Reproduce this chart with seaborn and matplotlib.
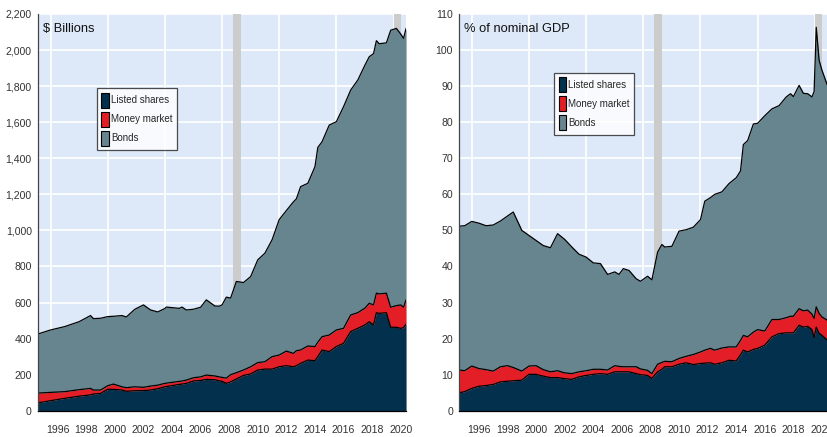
import numpy as np
import pandas as pd
import matplotlib
matplotlib.use("Agg")
import matplotlib.pyplot as plt
from matplotlib.ticker import FuncFormatter, FixedLocator
from matplotlib import font_manager
import seaborn as sns

# ---- data (decimal years) ----
usd_t = [1995.125, 1996, 1997, 1998, 1998.8, 1999, 1999.5, 2000, 2000.4, 2001, 2001.3,
         2001.9, 2002.5, 2003, 2003.5, 2004, 2004.1, 2005, 2005.2, 2005.5, 2006, 2006.5,
         2006.9, 2007.5, 2007.8, 2008, 2008.3, 2008.6, 2009, 2009.5, 2010, 2010.5, 2011,
         2011.5, 2012, 2012.5, 2013, 2013.2, 2013.5, 2014, 2014.5, 2014.7, 2015, 2015.5,
         2016, 2016.5, 2017, 2017.5, 2018, 2018.3, 2018.6, 2018.8, 2019, 2019.5, 2019.8,
         2020.2, 2020.5, 2020.7, 2020.875]
# cumulative tops of each band, $ billions
usd_total = [426, 448, 467, 494, 528, 511, 513, 522, 524, 528, 520,
             563, 587, 559, 548, 567, 575, 568, 575, 559, 563, 574,
             615, 581, 580, 587, 630, 625, 717, 711, 744, 837, 874,
             948, 1060, 1110, 1159, 1175, 1243, 1261, 1353, 1460, 1492, 1584,
             1603, 1686, 1778, 1834, 1917, 1963, 1980, 2052, 2035, 2040, 2110,
             2120, 2089, 2065, 2120]
usd_shares_mm = [98, 102, 106, 117, 124, 115, 115, 139, 148, 133, 128,
                 133, 130, 137, 142, 152, 153, 163, 165, 170, 183, 188,
                 198, 193, 188, 185, 181, 200, 211, 226, 244, 267, 272,
                 300, 309, 331, 318, 333, 337, 359, 356, 380, 411, 420,
                 448, 457, 531, 544, 569, 596, 587, 652, 648, 652, 574,
                 583, 587, 574, 615]
usd_shares = [44, 56, 69, 81, 88, 93, 96, 119, 119, 115, 108,
              111, 112, 115, 122, 133, 134, 146, 148, 152, 165, 168,
              174, 172, 166, 163, 152, 160, 176, 196, 204, 226, 231,
              231, 244, 250, 244, 250, 263, 281, 278, 300, 337, 328,
              356, 374, 439, 457, 476, 494, 476, 544, 540, 544, 463,
              463, 457, 461, 481]

gdp_t = [1995.125, 1995.5, 1996, 1996.5, 1997, 1997.5, 1998, 1998.5, 1998.9, 1999.5,
         2000, 2000.5, 2001, 2001.5, 2002, 2002.5, 2003, 2003.5, 2004, 2004.5, 2005,
         2005.5, 2006, 2006.3, 2006.6, 2007, 2007.5, 2007.8, 2008.3, 2008.6, 2009,
         2009.3, 2009.5, 2010, 2010.5, 2011, 2011.5, 2012, 2012.3, 2012.7, 2013, 2013.5,
         2014, 2014.5, 2014.8, 2015, 2015.3, 2015.7, 2016, 2016.5, 2017, 2017.5, 2018,
         2018.3, 2018.5, 2018.9, 2019.2, 2019.5, 2019.8, 2019.95, 2020.1, 2020.3,
         2020.5, 2020.875]
# cumulative tops of each band, % of nominal GDP
gdp_total = [51.2, 51.3, 52.5, 52.0, 51.3, 51.5, 52.6, 54.0, 55.1, 50.0,
             48.6, 47.2, 45.8, 45.2, 49.1, 47.5, 45.4, 43.4, 42.6, 41.0, 40.8,
             37.8, 38.5, 37.8, 39.4, 38.9, 36.6, 35.9, 37.3, 36.3, 44.0,
             46.1, 45.4, 45.6, 49.8, 50.2, 50.9, 53.0, 58.1, 59.1, 60.0, 60.7,
             63.0, 64.6, 66.5, 73.8, 74.9, 79.5, 79.7, 81.8, 83.7, 84.6, 87.0,
             87.9, 87.1, 90.2, 88.0, 87.9, 87.0, 88.5, 106.3, 97.2,
             94.4, 90.3]
gdp_shares_mm = [11.3, 11.1, 12.4, 11.7, 11.4, 11.0, 12.2, 12.5, 12.0, 11.0,
                 12.4, 12.5, 11.4, 10.8, 11.1, 10.5, 10.3, 10.8, 11.1, 11.5, 11.5,
                 11.3, 12.5, 12.3, 12.2, 12.2, 12.2, 11.6, 11.2, 10.3, 12.9,
                 13.4, 13.7, 13.6, 14.5, 15.1, 15.6, 16.3, 16.8, 17.3, 16.8, 17.4,
                 17.7, 17.7, 19.5, 20.9, 20.5, 21.8, 22.5, 22.1, 25.3, 25.3, 25.8,
                 26.2, 26.2, 28.3, 27.7, 27.9, 26.8, 25.6, 28.8, 27.0,
                 26.0, 25.1]
gdp_shares = [5.0, 5.3, 6.2, 6.8, 7.0, 7.3, 8.0, 8.2, 8.3, 8.5,
              10.1, 10.1, 9.6, 9.2, 9.2, 8.9, 8.7, 9.4, 9.8, 10.1, 10.3,
              10.1, 10.8, 10.8, 10.8, 10.8, 10.3, 10.0, 9.8, 9.0, 10.8,
              11.5, 12.2, 12.2, 12.9, 13.3, 12.8, 13.1, 13.2, 13.3, 12.9, 13.3,
              14.0, 13.8, 15.5, 16.8, 16.3, 17.0, 17.3, 18.2, 20.5, 21.4, 21.6,
              21.6, 21.6, 23.7, 23.2, 23.4, 22.5, 20.3, 23.2, 21.5,
              20.9, 19.6]

recessions = [(2008.75, 2009.3), (2020.0, 2020.5)]
series_names = ["Listed shares", "Money market", "Bonds"]
colors = ["#03304c", "#e41e26", "#67858f"]

sns.set_style("white")
plt.rcParams["font.family"] = ["Liberation Sans", "DejaVu Sans"]
installed = {f.name for f in font_manager.fontManager.ttflist}
narrow = "Liberation Sans Narrow" if "Liberation Sans Narrow" in installed else "Liberation Sans"
tick_size = 7.6
leg_size = 7.0

fig = plt.figure(figsize=(8.27, 4.37), dpi=100)
ax1 = fig.add_axes([0.046, 0.060, 0.445, 0.908])
ax2 = fig.add_axes([0.5554, 0.060, 0.445, 0.908])


def draw(ax, t, shares, smm, total, ymax, ystep, title, leg_xy):
    ax.set_facecolor("#dde9f9")
    t = np.array(t)
    df = pd.DataFrame({"t": t, "shares": shares, "smm": smm, "total": total})
    ax.set_xlim(t[0], t[-1])
    ax.set_ylim(0, ymax)

    # grid
    for g in range(1996, 2021, 4):
        ax.axvline(g, color="white", lw=1.2, zorder=0.5)
    for v in np.arange(ystep, ymax + 1, ystep):
        ax.axhline(v, color="white", lw=1.2, zorder=0.5)
    for a, b in recessions:
        ax.axvspan(a, b, color="#cccccc", lw=0, zorder=0.8)

    ax.fill_between(df.t, 0, df.shares, color=colors[0], lw=0, zorder=1)
    ax.fill_between(df.t, df.shares, df.smm, color=colors[1], lw=0, zorder=1)
    ax.fill_between(df.t, df.smm, df.total, color=colors[2], lw=0, zorder=1)
    for col in ["shares", "smm", "total"]:
        sns.lineplot(data=df, x="t", y=col, ax=ax, color="black", lw=0.9,
                     zorder=2, estimator=None, sort=False)
    ax.set_xlabel("")
    ax.set_ylabel("")

    # axes styling
    for s in ["top", "right"]:
        ax.spines[s].set_visible(False)
    ax.spines["left"].set_color("#444444")
    ax.spines["bottom"].set_color("black")
    ax.spines["left"].set_linewidth(0.9)
    ax.spines["bottom"].set_linewidth(0.9)

    ax.set_yticks(np.arange(0, ymax + 1, ystep))
    ax.yaxis.set_major_formatter(FuncFormatter(lambda v, p: f"{int(v):,}"))
    ax.tick_params(axis="y", length=3, width=0.8, color="#444444", pad=1.5,
                   labelsize=tick_size, labelcolor="#333333")

    yrs = list(range(1996, 2021, 2))
    ax.xaxis.set_major_locator(FixedLocator([y + 0.5 for y in yrs]))
    ax.set_xticklabels([str(y) for y in yrs])
    quarters = np.arange(1995.25, 2021.0, 0.25)
    ax.xaxis.set_minor_locator(FixedLocator(quarters))
    ax.tick_params(axis="x", which="major", length=0, pad=10, labelsize=tick_size,
                   labelcolor="#333333")
    ax.tick_params(axis="x", which="minor", length=3, width=0.7, color="#333333")
    for lab in ax.get_xticklabels() + ax.get_yticklabels():
        lab.set_family(narrow)

    ax.text(0.014, 0.978, title, transform=ax.transAxes, ha="left", va="top",
            fontsize=9.3, color="#111111", zorder=5)

    handles = [plt.Rectangle((0, 0), 1, 1, facecolor=c, edgecolor="black", lw=0.8)
               for c in colors]
    leg = ax.legend(handles, series_names, loc="upper left", bbox_to_anchor=leg_xy,
                    frameon=True, fancybox=False, handlelength=0.75, handleheight=2.0,
                    handletextpad=0.25, labelspacing=0.42, borderpad=0.45,
                    borderaxespad=0, prop={"family": narrow, "size": leg_size})
    leg.get_frame().set_edgecolor("#222222")
    leg.get_frame().set_linewidth(0.9)
    leg.set_zorder(6)


draw(ax1, usd_t, usd_shares, usd_shares_mm, usd_total, 2200, 200, "$ Billions",
     (0.16, 0.813))
draw(ax2, gdp_t, gdp_shares, gdp_shares_mm, gdp_total, 110, 10, "% of nominal GDP",
     (0.258, 0.852))

fig.savefig("out.png", dpi=100)
